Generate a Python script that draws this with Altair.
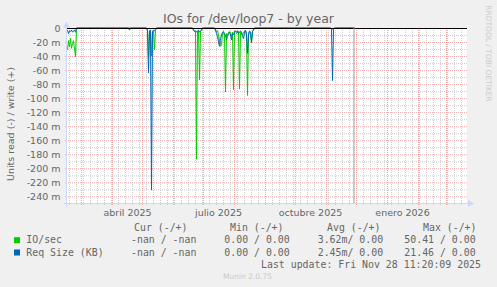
import altair as alt
import pandas as pd

# ---------------- data ----------------
START = "2025-02-15"                      # first day shown (left edge)
NOW = "2025-11-28T11:20:09Z"              # last update
month_names = ["enero", "febrero", "marzo", "abril", "mayo", "junio", "julio",
               "agosto", "septiembre", "octubre", "noviembre", "diciembre"]
x_label_dates = [(2025, 4, 16), (2025, 7, 16), (2025, 10, 16), (2026, 1, 16)]
y_ticks = [0, -20, -40, -60, -80, -100, -120, -140, -160, -180, -200, -220, -240]
y_minor = [-10, -30, -50, -70, -90, -110, -130, -150, -170, -190, -210, -230]

# read values (milli-units), as (first day offset, daily values)
io_segments = [
    (0, [-31, -18, -27, -15, -29, -22, -18, -30, -41, 0]),
    (79, [0, -3, -42, -5, -3, -40, -5, -4, -31, -3, 0]),
    (125, [0, -3, -4, -5, -187, -5, -4, -74, -5, -3, 0]),
    (147, [0, -3, -5, -4, -10, -18, -26, -24, -8, -6, -10, -91, -8, -10, -6, -5,
           -8, -12, -6, -88, -6, -5, -8, -6, -5, -87, -6, -8, -10, -6, -5, -4,
           -12, -96, -10, -6, -8, -20, -5, -3, 0]),
    (263, [0, -1, -2, -1, 0]),
    (287, [0]),
]
req_segments = [
    (0, [-3, -8, -4, -5, -3, -6, -4, -3, -6, 0]),
    (61, [0, -3, 0]),
    (79, [0, -3, -64, -4, -3, -231, -5, -3, -4, -2, 0]),
    (125, [0, -3, -5, -4, -6, -4, -3, -6, -4, -3, 0]),
    (147, [0, -3, -8, -12, -20, -26, -15, -10, -6, -5, -8, -10, -17, -12, -8, -6,
           -10, -17, -8, -10, -5, -4, -6, -4, -8, -6, -4, -6, -12, -15, -6, -3,
           -8, -36, -8, -4, -6, -21, -5, -3, 0]),
    (263, [0, -2, -75, -2, 0]),
    (287, [0]),
]
series_names = ["IO/sec", "Req Size (KB)"]
series_colors = ["#00CC00", "#0066B3"]

legend_cur = ["-nan / -nan", "-nan / -nan"]
legend_min = ["0.00 / 0.00", "0.00 / 0.00"]
legend_avg = ["3.62m/ 0.00", "2.45m/ 0.00"]
legend_max = ["50.41 / 0.00", "21.46 / 0.00"]
legend_headers = ["Cur (-/+)", "Min (-/+)", "Avg (-/+)", "Max (-/+)"]
last_update = "Last update: Fri Nov 28 11:20:09 2025"

# ---------------- tables ----------------
start = pd.Timestamp(START)


def iso(ts):
    return ts.strftime("%Y-%m-%dT%H:%M:%SZ")


rows = []
for name, segs in zip(series_names, [io_segments, req_segments]):
    for first, vals in segs:
        for i, v in enumerate(vals):
            rows.append({"date": iso(start + pd.Timedelta(days=first + i)), "value": v, "series": name})
df = pd.DataFrame(rows)

weeks = pd.DataFrame({"date": [iso(d) for d in pd.date_range("2025-02-17", "2026-03-20", freq="7D")]})
months = pd.DataFrame({"date": [iso(d) for d in pd.date_range("2025-03-01", "2026-03-01", freq="MS")]})
hmajor = pd.DataFrame({"value": y_ticks[1:]})
hminor = pd.DataFrame({"value": y_minor})
now_df = pd.DataFrame({"date": [NOW]})

x_scale = alt.Scale(type="utc", nice=False,
                    domain=[alt.DateTime(year=2025, month=2, date=15, utc=True),
                            alt.DateTime(year=2026, month=3, date=22, utc=True)])
y_scale = alt.Scale(domain=[-249.4, 0], nice=False, zero=False)

FONT = "DejaVu Sans"
MONO = "DejaVu Sans Mono"
TXT = "#666666"
AXISC = "#CFD6F8"
GRIDC = "#CDCDCD"
MGRIDC = "#F0A8A8"

names_js = "[" + ",".join("'%s'" % m for m in month_names) + "]"
x_axis = alt.Axis(values=[alt.DateTime(year=y, month=m, date=d, utc=True) for y, m, d in x_label_dates],
                  labelExpr=names_js + "[utcmonth(datum.value)] + ' ' + utcyear(datum.value)",
                  ticks=False, domain=False, grid=False, title=None, labelFont=FONT,
                  labelFontSize=9.5, labelColor=TXT, labelBaseline="alphabetic",
                  labelPadding=12.7, labelFlush=False, labelOverlap=False)
y_axis = alt.Axis(values=y_ticks,
                  labelExpr="datum.value == 0 ? '0\u00a0\u00a0' : datum.value + ' m'",
                  ticks=False, domain=False, grid=False, title=None, labelFont=FONT,
                  labelFontSize=9.5, labelColor=TXT, labelPadding=7, labelOverlap=False)


def X():
    return alt.X("date:T", scale=x_scale, axis=x_axis)


def Y():
    return alt.Y("value:Q", scale=y_scale, axis=y_axis)


minor_v = alt.Chart(weeks).mark_rule(color=GRIDC, strokeDash=[1, 1], xOffset=0.5).encode(
    x=X(), y=alt.value(0), y2=alt.value(177))
major_v = alt.Chart(months).mark_rule(color=MGRIDC, strokeDash=[1, 1], xOffset=0.5).encode(
    x=X(), y=alt.value(0), y2=alt.value(177))
minor_h = alt.Chart(hminor).mark_rule(color=GRIDC, strokeDash=[1, 1], yOffset=0.5).encode(y=Y())
major_h = alt.Chart(hmajor).mark_rule(color=MGRIDC, strokeDash=[1, 1], yOffset=0.5).encode(y=Y())
tick_h = alt.Chart(hmajor).mark_rule(color=MGRIDC, yOffset=0.5).encode(
    y=Y(), x=alt.value(-2), x2=alt.value(0))

lines = alt.Chart(df).mark_line(strokeWidth=1, xOffset=0.5).encode(
    x=X(), y=Y(),
    color=alt.Color("series:N", scale=alt.Scale(domain=series_names, range=series_colors), legend=None),
)

zero = alt.Chart(pd.DataFrame({"value": [0]})).mark_rule(color="#000000", yOffset=0.5).encode(y=Y())
now_rule = alt.Chart(now_df).mark_rule(color="#999999", xOffset=0.5).encode(x=X())

x_axis_line = alt.Chart(now_df).mark_rule(color=AXISC).encode(
    x=alt.value(-3), x2=alt.value(401), y=alt.value(175.5))
y_axis_line = alt.Chart(now_df).mark_rule(color=AXISC).encode(
    x=alt.value(-0.5), y=alt.value(-2), y2=alt.value(179))
x_arrow = alt.Chart(now_df).mark_point(shape="M-0.857,-1L0.857,0L-0.857,1Z", filled=True,
                                       size=49, opacity=1, color=AXISC).encode(
    x=alt.value(404), y=alt.value(175.5))
y_arrow = alt.Chart(now_df).mark_point(shape="M-1,0.857L0,-0.857L1,0.857Z", filled=True,
                                       size=49, opacity=1, color=AXISC).encode(
    x=alt.value(-0.5), y=alt.value(-3.5))


def text(s, x, y, size=9.9, font=MONO, color=TXT, align="left", **kw):
    return alt.Chart(now_df).mark_text(text=s, font=font, fontSize=size, color=color,
                                       align=align, baseline=kw.pop("baseline", "alphabetic"), **kw).encode(
        x=alt.value(x), y=alt.value(y))


OX, OY = 67, 28
texts = [
    text("IOs for /dev/loop7 - by year", 248.5 - OX, 23 - OY, size=12.5, font=FONT, align="center"),
    text("Units read (-) / write (+)", 14 - OX, 124 - OY, size=9.5, font=FONT, align="center", angle=270),
    text("RRDTOOL / TOBI OETIKER", 487.5 - OX, 53.5 - OY, size=7.5, font=FONT, color="#CCCCCC",
         align="center", angle=90, baseline="middle"),
    text("Munin 2.0.75", 247.5 - OX, 279 - OY, size=7.5, font=FONT, color="#C8C8C8", align="center"),
    text(last_update, 261 - OX, 267.6 - OY),
]
for h, hx in zip(legend_headers, [134, 230, 327, 423]):
    texts.append(text(h, hx - OX, 230.6 - OY))
for i, (nm, col) in enumerate(zip(series_names, series_colors)):
    by = [243.2, 255.5][i]
    texts.append(alt.Chart(now_df).mark_square(size=36, color=col, opacity=1).encode(
        x=alt.value(17 - OX), y=alt.value(by - 3 - OY)))
    texts.append(text(nm, 26.3 - OX, by - OY))
    texts.append(text(legend_cur[i], 131 - OX, by - OY))
    texts.append(text(legend_min[i], 224.3 - OX, by - OY))
    texts.append(text(legend_avg[i], 317.7 - OX, by - OY))
    texts.append(text(legend_max[i], 404.3 - OX, by - OY))

chart = alt.layer(minor_v, minor_h, major_v, major_h, tick_h, lines, zero, now_rule,
                  x_axis_line, y_axis_line, x_arrow, y_arrow, *texts).properties(
    width=400, height=175,
    padding={"left": OX, "top": OY, "right": 497 - 467, "bottom": 287 - 203},
    autosize=alt.AutoSizeParams(type="none"),
    background="#F0F0F0",
).configure_view(fill="#FFFFFF", stroke=None)

chart.save("out.html", embed_options={"renderer": "svg", "actions": False})
